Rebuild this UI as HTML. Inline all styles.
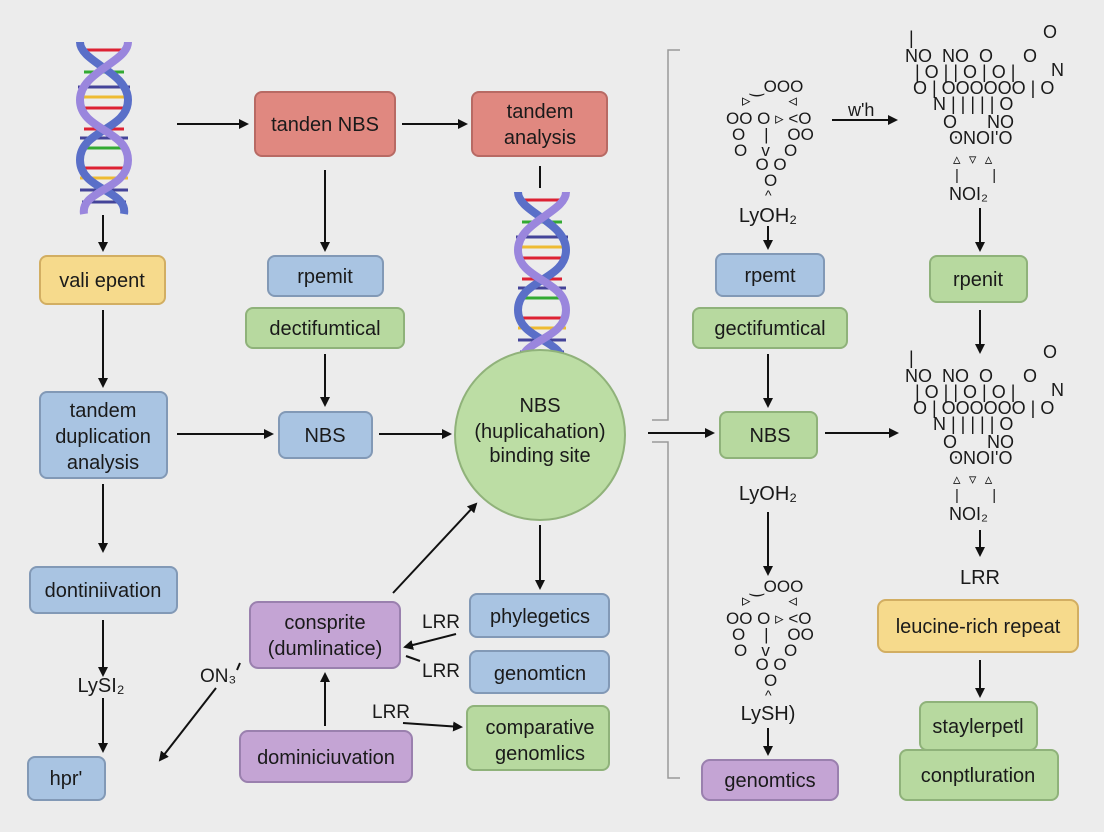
<!DOCTYPE html>
<html><head><meta charset="utf-8"><style>
html,body{margin:0;padding:0;background:#ececec}
svg{display:block}
text{font-family:"Liberation Sans",sans-serif;fill:#1a1a1a}
.b{fill:#a9c4e2;stroke:#8299b6;stroke-width:2}
.g{fill:#b7d99f;stroke:#8fb27a;stroke-width:2}
.r{fill:#e08880;stroke:#b86a64;stroke-width:2}
.y{fill:#f6da8c;stroke:#d2ae62;stroke-width:2}
.p{fill:#c4a4d4;stroke:#9a80ae;stroke-width:2}
.l{stroke:#111;stroke-width:2;fill:none}
.br{stroke:#999;stroke-width:1.5;fill:none}
.t{font-size:20px;text-anchor:middle}
.ch{font-size:18px}
.cs{font-size:17px}
</style></head><body>
<svg width="1104" height="832" viewBox="0 0 1104 832" xmlns="http://www.w3.org/2000/svg">
<defs>
<marker id="a" markerWidth="10" markerHeight="10" refX="8" refY="5" orient="auto" markerUnits="userSpaceOnUse"><path d="M0,0 L10,5 L0,10 z" fill="#111"/></marker>
<g id="dna">
<g stroke-width="3">
<line x1="-24" y1="8" x2="24" y2="8" stroke="#d23"/><line x1="-20" y1="30" x2="20" y2="30" stroke="#3a3"/>
<line x1="-26" y1="45" x2="26" y2="45" stroke="#449"/><line x1="-26" y1="55" x2="26" y2="55" stroke="#eb3"/>
<line x1="-22" y1="66" x2="22" y2="66" stroke="#d23"/><line x1="-20" y1="87" x2="20" y2="87" stroke="#d23"/>
<line x1="-24" y1="96" x2="24" y2="96" stroke="#449"/><line x1="-24" y1="106" x2="24" y2="106" stroke="#3a3"/>
<line x1="-20" y1="126" x2="20" y2="126" stroke="#d23"/><line x1="-24" y1="136" x2="24" y2="136" stroke="#eb3"/>
<line x1="-24" y1="148" x2="24" y2="148" stroke="#449"/><line x1="-22" y1="160" x2="22" y2="160" stroke="#449"/>
</g>
<path d="M-24,0 C-24,20 24,30 24,58 C24,88 -24,88 -24,118 C-24,148 24,148 20,172" stroke="#5a6fc8" stroke-width="8" fill="none"/>
<path d="M24,0 C24,20 -24,30 -24,58 C-24,88 24,88 24,118 C24,148 -24,148 -20,172" stroke="#9a86dd" stroke-width="8" fill="none"/>
</g>
<g id="mol">
<text class="cs" x="12" y="0" xml:space="preserve">‿OOO</text>
<text class="cs" x="4" y="14" xml:space="preserve">▹        ◃</text>
<text class="cs" x="-12" y="32" xml:space="preserve">OO O ▹ &lt;O</text>
<text class="cs" x="-6" y="48" xml:space="preserve">O    |    OO</text>
<text class="cs" x="-4" y="64" xml:space="preserve">O   v   O</text>
<text class="cs" x="8" y="78" xml:space="preserve">  O O</text>
<text class="cs" x="26" y="94" xml:space="preserve">O</text>
<text class="cs" x="27" y="108" xml:space="preserve" style="font-size:14px">^</text>
</g>
<g id="big">
<text class="ch" x="0" y="0">|</text>
<text class="ch" x="-4" y="18" xml:space="preserve">NO  NO  O      O</text>
<text class="ch" x="134" y="-6">O</text>
<text class="ch" x="6" y="34" xml:space="preserve">| O | | O | O |</text>
<text class="ch" x="142" y="32">N</text>
<text class="ch" x="4" y="50" xml:space="preserve">O | OOOOOO | O</text>
<text class="ch" x="24" y="66" xml:space="preserve">N | | | | | O</text>
<text class="ch" x="34" y="84" xml:space="preserve">O      NO</text>
<text class="ch" x="40" y="100" xml:space="preserve">ʘNOI'O</text>
<text class="ch" x="44" y="120" xml:space="preserve" style="font-size:15px">▵  ▿  ▵</text>
<text class="ch" x="46" y="136" xml:space="preserve" style="font-size:15px">|        |</text>
<text class="ch" x="40" y="156">NOI₂</text>
</g>
</defs>
<use href="#dna" x="104" y="42"/>
<use href="#dna" x="542" y="192"/>

<rect class="y" x="40" y="256" width="125" height="48" rx="7"/><text class="t" x="102" y="287">vali epent</text>
<rect class="b" x="40" y="392" width="127" height="86" rx="7"/><text class="t" x="103" y="417">tandem</text><text class="t" x="103" y="443">duplication</text><text class="t" x="103" y="469">analysis</text>
<rect class="b" x="30" y="567" width="147" height="46" rx="7"/><text class="t" x="103" y="597">dontiniivation</text>
<rect class="b" x="28" y="757" width="77" height="43" rx="7"/><text class="t" x="66" y="785">hpr'</text>
<text class="t" x="101" y="692">LySI₂</text>
<line class="l" x1="103" y1="215" x2="103" y2="250" marker-end="url(#a)"/>
<line class="l" x1="103" y1="310" x2="103" y2="386" marker-end="url(#a)"/>
<line class="l" x1="103" y1="484" x2="103" y2="551" marker-end="url(#a)"/>
<line class="l" x1="103" y1="620" x2="103" y2="675" marker-end="url(#a)"/>
<line class="l" x1="103" y1="698" x2="103" y2="751" marker-end="url(#a)"/>

<rect class="r" x="255" y="92" width="140" height="64" rx="7"/><text class="t" x="325" y="131">tanden NBS</text>
<rect class="r" x="472" y="92" width="135" height="64" rx="7"/><text class="t" x="540" y="118">tandem</text><text class="t" x="540" y="144">analysis</text>
<line class="l" x1="177" y1="124" x2="247" y2="124" marker-end="url(#a)"/>
<line class="l" x1="402" y1="124" x2="466" y2="124" marker-end="url(#a)"/>
<line class="l" x1="540" y1="166" x2="540" y2="188"/>
<line class="l" x1="325" y1="170" x2="325" y2="250" marker-end="url(#a)"/>
<rect class="b" x="268" y="256" width="115" height="40" rx="7"/><text class="t" x="325" y="283">rpemit</text>
<rect class="g" x="246" y="308" width="158" height="40" rx="7"/><text class="t" x="325" y="335">dectifumtical</text>
<line class="l" x1="325" y1="354" x2="325" y2="405" marker-end="url(#a)"/>
<rect class="b" x="279" y="412" width="93" height="46" rx="7"/><text class="t" x="325" y="442">NBS</text>
<line class="l" x1="177" y1="434" x2="272" y2="434" marker-end="url(#a)"/>
<line class="l" x1="379" y1="434" x2="450" y2="434" marker-end="url(#a)"/>
<circle cx="540" cy="435" r="85" fill="#bcdda4" stroke="#90b27a" stroke-width="2"/>
<text class="t" x="540" y="412">NBS</text><text class="t" x="540" y="438">(huplicahation)</text><text class="t" x="540" y="462">binding site</text>

<line class="l" x1="540" y1="525" x2="540" y2="588" marker-end="url(#a)"/>
<rect class="b" x="470" y="594" width="139" height="43" rx="7"/><text class="t" x="540" y="623">phylegetics</text>
<rect class="b" x="470" y="651" width="139" height="42" rx="7"/><text class="t" x="540" y="680">genomticn</text>
<rect class="g" x="467" y="706" width="142" height="64" rx="7"/><text class="t" x="540" y="734">comparative</text><text class="t" x="540" y="760">genomlics</text>
<rect class="p" x="250" y="602" width="150" height="66" rx="8"/><text class="t" x="325" y="629">consprite</text><text class="t" x="325" y="655">(dumlinatice)</text>
<rect class="p" x="240" y="731" width="172" height="51" rx="8"/><text class="t" x="326" y="764">dominiciuvation</text>
<line class="l" x1="393" y1="593" x2="476" y2="504" marker-end="url(#a)"/>
<line class="l" x1="456" y1="634" x2="405" y2="647" marker-end="url(#a)"/>
<line class="l" x1="406" y1="656" x2="420" y2="661"/>
<text x="422" y="628" style="font-size:19px">LRR</text>
<text x="422" y="677" style="font-size:19px">LRR</text>
<text x="372" y="718" style="font-size:19px">LRR</text>
<line class="l" x1="403" y1="723" x2="461" y2="727" marker-end="url(#a)"/>
<line class="l" x1="325" y1="726" x2="325" y2="674" marker-end="url(#a)"/>
<text x="200" y="682" style="font-size:19px">ON₃</text>
<line class="l" x1="237" y1="670" x2="240" y2="663"/>
<line class="l" x1="216" y1="688" x2="160" y2="760" marker-end="url(#a)"/>

<path class="br" d="M680,50 L668,50 L668,420 L652,420"/>
<path class="br" d="M652,442 L668,442 L668,778 L680,778"/>

<use href="#mol" x="738" y="92"/>
<text class="t" x="768" y="222">LyOH₂</text>
<text x="848" y="116" style="font-size:18px">w'h</text>
<line class="l" x1="832" y1="120" x2="896" y2="120" marker-end="url(#a)"/>
<use href="#big" x="909" y="44"/>
<line class="l" x1="768" y1="226" x2="768" y2="248" marker-end="url(#a)"/>
<rect class="b" x="716" y="254" width="108" height="42" rx="7"/><text class="t" x="770" y="282">rpemt</text>
<rect class="g" x="693" y="308" width="154" height="40" rx="7"/><text class="t" x="770" y="335">gectifumtical</text>
<line class="l" x1="768" y1="354" x2="768" y2="406" marker-end="url(#a)"/>
<rect class="g" x="720" y="412" width="97" height="46" rx="7"/><text class="t" x="770" y="442">NBS</text>
<line class="l" x1="648" y1="433" x2="713" y2="433" marker-end="url(#a)"/>
<line class="l" x1="825" y1="433" x2="897" y2="433" marker-end="url(#a)"/>
<text class="t" x="768" y="500">LyOH₂</text>
<line class="l" x1="768" y1="512" x2="768" y2="574" marker-end="url(#a)"/>
<use href="#mol" x="738" y="592"/>
<text class="t" x="768" y="720">LySH)</text>
<line class="l" x1="768" y1="728" x2="768" y2="754" marker-end="url(#a)"/>
<rect class="p" x="702" y="760" width="136" height="40" rx="8"/><text class="t" x="770" y="787">genomtics</text>

<line class="l" x1="980" y1="208" x2="980" y2="250" marker-end="url(#a)"/>
<rect class="g" x="930" y="256" width="97" height="46" rx="7"/><text class="t" x="978" y="286">rpenit</text>
<line class="l" x1="980" y1="310" x2="980" y2="352" marker-end="url(#a)"/>
<use href="#big" x="909" y="364"/>
<line class="l" x1="980" y1="530" x2="980" y2="555" marker-end="url(#a)"/>
<text class="t" x="980" y="584">LRR</text>
<rect class="y" x="878" y="600" width="200" height="52" rx="8"/><text class="t" x="978" y="633">leucine-rich repeat</text>
<line class="l" x1="980" y1="660" x2="980" y2="696" marker-end="url(#a)"/>
<rect class="g" x="920" y="702" width="117" height="48" rx="7"/><text class="t" x="978" y="733">staylerpetl</text>
<rect class="g" x="900" y="750" width="158" height="50" rx="7"/><text class="t" x="978" y="782">conptluration</text>
</svg>
</body></html>
